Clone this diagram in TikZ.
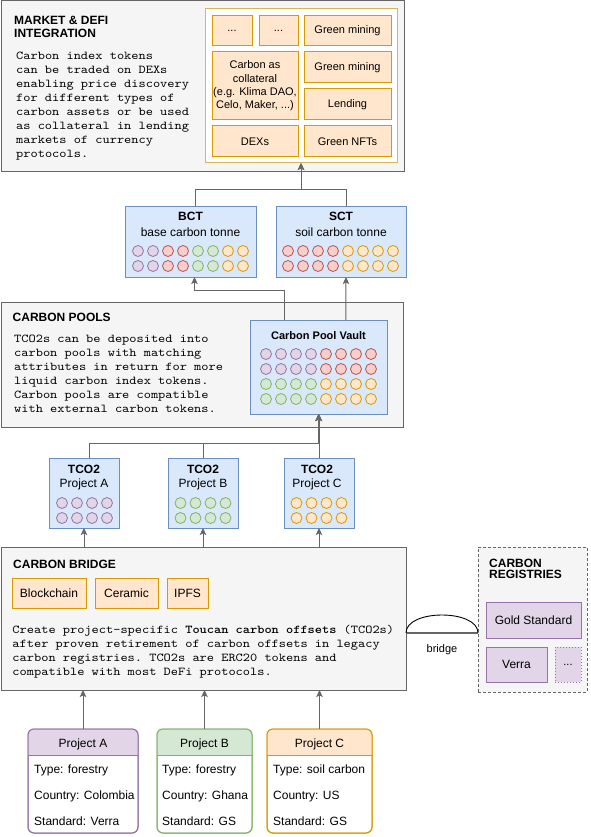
\documentclass[tikz,border=0pt]{standalone}
\usepackage{fontspec}
\setmainfont{Liberation Sans}
\setmonofont{lmmono10-regular.otf}[FakeStretch=1.143, BoldFont=lmmonolt10-bold.otf]
\usetikzlibrary{arrows.meta,calc}
\definecolor{grayfill}{HTML}{F5F5F5}
\definecolor{graystroke}{HTML}{666666}
\definecolor{orfill}{HTML}{FFE6CC}
\definecolor{orstroke}{HTML}{D79B00}
\definecolor{blfill}{HTML}{DAE8FC}
\definecolor{blstroke}{HTML}{6C8EBF}
\definecolor{pufill}{HTML}{E1D5E7}
\definecolor{pustroke}{HTML}{9673A6}
\definecolor{grfill}{HTML}{D5E8D4}
\definecolor{grstroke}{HTML}{82B366}
\definecolor{refill}{HTML}{F8CECC}
\definecolor{restroke}{HTML}{B85450}
\definecolor{yestroke}{HTML}{D6B656}
\definecolor{linegray}{HTML}{666666}
\tikzset{
  bxbase/.style={inner sep=0pt, outer sep=0pt, anchor=north west, line width=1pt},
  container/.style={bxbase, draw=graystroke, fill=grayfill},
  regbox/.style={bxbase, draw=graystroke, fill=grayfill, dash pattern=on 3pt off 2pt},
  ybox/.style={bxbase, draw=yestroke, fill=white},
  cell/.style={bxbase, draw=orstroke, fill=orfill, align=center, font=\fontsize{11}{13.3}\selectfont},
  obox/.style={bxbase, draw=orstroke, fill=orfill, align=center, font=\fontsize{12}{14}\selectfont},
  bbox/.style={bxbase, draw=blstroke, fill=blfill},
  pbox/.style={bxbase, draw=pustroke, fill=pufill, align=center, font=\fontsize{12}{14}\selectfont},
  projbox/.style={bxbase, draw=#1stroke, fill=white, rounded corners=6pt},
  lbl/.style={inner sep=0pt, anchor=base, font=\fontsize{12}{14}\selectfont},
  blbl/.style={inner sep=0pt, anchor=base, font=\bfseries\fontsize{12}{14}\selectfont},
  ttl/.style={inner sep=0pt, anchor=base west, font=\bfseries\fontsize{12}{14}\selectfont},
  rowlbl/.style={inner sep=0pt, anchor=base west, font=\fontsize{12}{14}\selectfont},
  mono/.style={inner sep=0pt, anchor=base west, font=\ttfamily\fontsize{12}{14}\selectfont},
  conn/.style={draw=linegray, line width=1pt},
  arr/.style={conn, -{Stealth[length=7pt,width=6.5pt,inset=1.5pt]}},
}
\newcommand\bx[7]{\node[#1, minimum width={#5pt-#3pt}, minimum height={#6pt-#4pt}] (#2) at (#3,#4) {#7};}
\newcommand\monoblock[4]{\foreach \mline [count=\i from 0] in {#4} {\node[mono] (#1\i) at (#2,{#3+14*\i}) {\mline};}}
\newcommand\circrow[3]{\foreach \cc [count=\i from 0] in {#3} {\draw[line width=0.8pt, draw=\cc stroke, fill=\cc fill] ({#1+15*\i},#2) circle[radius=5.5];}}
\begin{document}
\begin{tikzpicture}[x=1pt,y=-1pt]
\fill[white] (0,0) rectangle (590,837);
\useasboundingbox (0,0) rectangle (590,837);

% ---------- Market & DeFi ----------
\bx{container}{market}{1}{1}{404}{172}{}
\node[ttl] (mt1) at (14,25) {MARKET \& DEFI};
\node[ttl] (mt2) at (14,38) {INTEGRATION};
\monoblock{mk}{16}{60}{Carbon index tokens,can be traded on DEXs,enabling price discovery,for different types of,carbon assets or be used,as collateral in lending,markets of currency,protocols.}
\bx{ybox}{mkin}{205}{9}{397}{163}{}
\bx{cell}{c1}{212}{16}{252}{46}{...}
\bx{cell}{c2}{259}{16}{298}{46}{...}
\bx{cell}{c3}{304}{16}{391}{46}{Green mining}
\bx{cell}{c4}{212}{52}{298}{120}{Carbon as\\collateral\\(e.g. Klima DAO,\\Celo, Maker, ...)}
\bx{cell}{c5}{304}{52}{391}{83}{Green mining}
\bx{cell}{c6}{304}{89}{391}{120}{Lending}
\bx{cell}{c7}{212}{126}{298}{157}{DEXs}
\bx{cell}{c8}{304}{126}{391}{157}{Green NFTs}

% ---------- BCT / SCT ----------
\bx{bbox}{bct}{125}{206}{256}{277}{}
\node[blbl] (bctt) at (190.5,220) {BCT};
\node[lbl] (bcts) at (190.5,236) {base carbon tonne};
\circrow{138}{251}{pu,pu,re,re,gr,gr,or,or}
\circrow{138}{266}{pu,pu,re,re,gr,gr,or,or}
\bx{bbox}{sct}{276}{206}{406}{277}{}
\node[blbl] (sctt) at (341,220) {SCT};
\node[lbl] (scts) at (341,236) {soil carbon tonne};
\circrow{288}{251}{re,re,re,re,or,or,or,or}
\circrow{288}{266}{re,re,re,re,or,or,or,or}

% ---------- Carbon pools ----------
\bx{container}{pools}{1}{302}{403}{427}{}
\node[ttl] (pt) at (12.5,321) {CARBON POOLS};
\monoblock{pl}{14}{342}{TCO2s can be deposited into,carbon pools with matching,attributes in return for more,liquid carbon index tokens.,Carbon pools are compatible,with external carbon tokens.}
\bx{bbox}{vault}{250}{320}{387}{414}{}
\node[inner sep=0pt, anchor=base, font=\bfseries\fontsize{11}{13}\selectfont] (vt) at (318.5,339) {Carbon Pool Vault};
\circrow{266}{354}{pu,pu,pu,pu,re,re,re,re}
\circrow{266}{369}{pu,pu,pu,pu,re,re,re,re}
\circrow{266}{384}{gr,gr,gr,gr,or,or,or,or}
\circrow{266}{399}{gr,gr,gr,gr,or,or,or,or}

% ---------- TCO2 ----------
\bx{bbox}{ta}{49}{458}{119}{528}{}
\node[blbl] (tat) at (84,473) {TCO2};
\node[lbl] (tap) at (84,487) {Project A};
\circrow{62}{503}{pu,pu,pu,pu}
\circrow{62}{518}{pu,pu,pu,pu}
\bx{bbox}{tb}{168}{458}{238}{528}{}
\node[blbl] (tbt) at (203,473) {TCO2};
\node[lbl] (tbp) at (203,487) {Project B};
\circrow{180.5}{503}{gr,gr,gr,gr}
\circrow{180.5}{518}{gr,gr,gr,gr}
\bx{bbox}{tc}{284}{458}{354}{528}{}
\node[blbl] (tct) at (317,473) {TCO2};
\node[lbl] (tcp) at (317,487) {Project C};
\circrow{296.5}{503}{or,or,or,or}
\circrow{296.5}{518}{or,or,or,or}

% ---------- Carbon bridge ----------
\bx{container}{bridge}{1}{547}{406}{690}{}
\node[ttl] (bt) at (13,568) {CARBON BRIDGE};
\bx{obox}{bc}{12}{578}{86}{608}{Blockchain}
\bx{obox}{ce}{95}{578}{158}{608}{Ceramic}
\bx{obox}{ip}{167}{578}{208}{608}{IPFS}
\monoblock{br}{12.3}{633.3}{Create project-specific \textbf{Toucan carbon offsets} (TCO2s),after proven retirement of carbon offsets in legacy,carbon registries. TCO2s are ERC20 tokens and,compatible with most DeFi protocols.}

% ---------- Registries ----------
\bx{regbox}{reg}{478}{547}{587}{692}{}
\node[ttl] (rt1) at (489,567) {CARBON};
\node[ttl] (rt2) at (489,578.5) {REGISTRIES};
\bx{pbox}{gs}{486}{602}{581}{638}{Gold Standard}
\bx{pbox}{ve}{486}{647}{547}{682}{Verra}
\node[bxbase, draw=pustroke, fill=pufill, dotted, minimum width=26pt, minimum height=35pt, font=\fontsize{11}{13}\selectfont] (rd) at (555,647) {...};

% bridge symbol
\draw[draw=linegray, line width=1.6pt] (bridge.east |- 0,633) -- (reg.west |- 0,633);
\draw[line width=0.9pt] (bridge.east |- 0,633) .. controls (406,609) and (478,609) .. (reg.west |- 0,633);
\node[inner sep=0pt, anchor=base, font=\fontsize{11}{13}\selectfont] (bl) at (442,652) {bridge};

% ---------- Projects ----------
\node[projbox=pu, minimum width=110pt, minimum height=104pt] (pa) at (28,729) {};
\fill[pufill, rounded corners=6pt] (28,755) -- (28,729) -- (138,729) -- (138,755);
\draw[pustroke, line width=1pt, rounded corners=6pt] (pa.north west) rectangle (pa.south east);
\draw[pustroke, line width=1pt] (28,755) -- (138,755);
\node[lbl] (pah) at (83,747) {Project A};
\node[rowlbl] (pa1) at (34,773) {Type: forestry};
\node[rowlbl] (pa2) at (34,799) {Country: Colombia};
\node[rowlbl] (pa3) at (34,825) {Standard: Verra};

\node[projbox=gr, minimum width=95pt, minimum height=104pt] (pb) at (157,729) {};
\fill[grfill, rounded corners=6pt] (157,755) -- (157,729) -- (252,729) -- (252,755);
\draw[grstroke, line width=1pt, rounded corners=6pt] (pb.north west) rectangle (pb.south east);
\draw[grstroke, line width=1pt] (157,755) -- (252,755);
\node[lbl] (pbh) at (204.5,747) {Project B};
\node[rowlbl] (pb1) at (162,773) {Type: forestry};
\node[rowlbl] (pb2) at (162,799) {Country: Ghana};
\node[rowlbl] (pb3) at (162,825) {Standard: GS};

\node[projbox=or, minimum width=105pt, minimum height=104pt] (pc) at (267,729) {};
\fill[orfill, rounded corners=6pt] (267,755) -- (267,729) -- (372,729) -- (372,755);
\draw[orstroke, line width=1pt, rounded corners=6pt] (pc.north west) rectangle (pc.south east);
\draw[orstroke, line width=1pt] (267,755) -- (372,755);
\node[lbl] (pch) at (319.5,747) {Project C};
\node[rowlbl] (pc1) at (273,773) {Type: soil carbon};
\node[rowlbl] (pc2) at (273,799) {Country: US};
\node[rowlbl] (pc3) at (273,825) {Standard: GS};

% ---------- Connectors ----------
\draw[arr] ($(bct.north)+(4.5,0)$) -- ++(0,-17) -| (mkin.south);
\draw[arr] ($(sct.north)+(5,0)$) -- ++(0,-17) -| (mkin.south);
\draw[arr] ($(vault.north west)!0.25!(vault.north east)$) -- ++(0,-30) -| ($(bct.south)+(4,0)$);
\draw[arr] ($(vault.north west)!0.7!(vault.north east)$) -- ($(sct.south)+(5,0)$);
\draw[arr] ($(ta.north)+(5,0)$) -- ++(0,-15) -| (vault.south);
\draw[arr] (tb.north) -- ++(0,-15) -| (vault.south);
\draw[arr] (tc.north) -- (vault.south -| tc.north);
\draw[arr] (bridge.north -| ta.south) -- (ta.south);
\draw[arr] (bridge.north -| tb.south) -- (tb.south);
\draw[arr] (bridge.north -| tc.south) -- (tc.south);
\draw[arr] (pa.north) -- (pa.north |- bridge.south);
\draw[arr] (pb.north) -- (pb.north |- bridge.south);
\draw[arr] (pc.north) -- (pc.north |- bridge.south);
\end{tikzpicture}
\end{document}
